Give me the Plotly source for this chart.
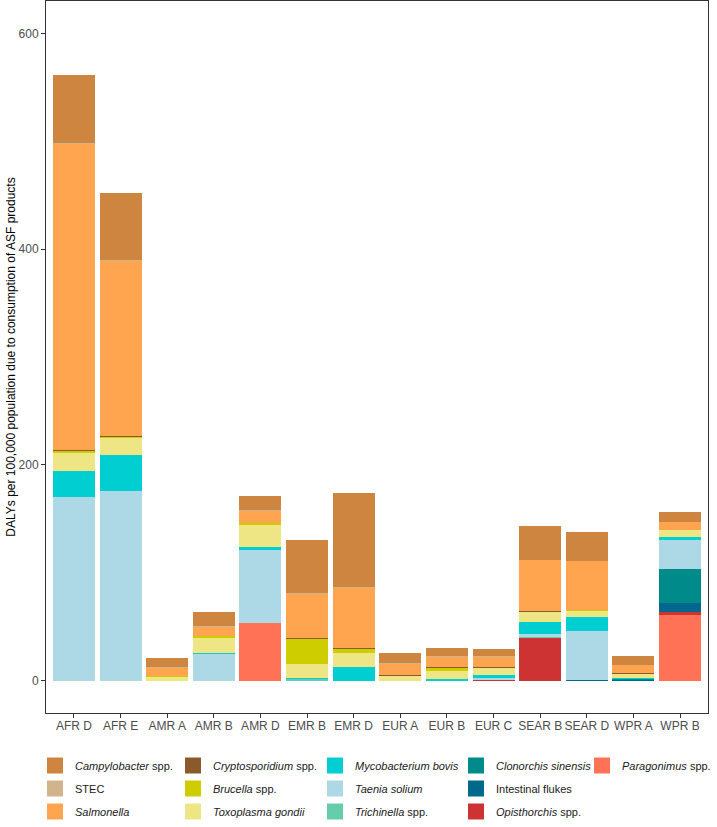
import plotly.graph_objects as go

regions = ["AFR D", "AFR E", "AMR A", "AMR B", "AMR D", "EMR B", "EMR D",
           "EUR A", "EUR B", "EUR C", "SEAR B", "SEAR D", "WPR A", "WPR B"]

campylobacter = [63.2, 62.0, 8.7, 12.9, 13.5, 49.0, 87.1, 9.1, 7.1, 6.5, 31.7, 26.8, 8.3, 8.9]
stec = [0.3, 0.3, 0.2, 0.3, 0.2, 0.2, 0.3, 0.3, 0.2, 0.2, 0.1, 0.1, 0.2, 0.1]
salmonella = [284.4, 162.9, 8.0, 8.4, 11.3, 42.0, 55.9, 11.0, 10.0, 10.0, 47.4, 45.5, 7.5, 7.0]
cryptosporidium = [0.2, 0.2, 0.1, 0.1, 0.1, 0.1, 0.1, 0.1, 0.1, 0.1, 0.1, 0.1, 0.1, 0.1]
brucella = [2.0, 1.0, 0.1, 1.2, 2.2, 23.3, 4.6, 0.1, 3.7, 0.3, 0.3, 0.2, 0.1, 0.3]
toxoplasma = [16.7, 15.9, 4.1, 14.5, 20.4, 13.6, 12.8, 5.0, 7.4, 7.1, 9.9, 6.1, 4.4, 6.5]
mycobacterium = [24.9, 33.4, 0.1, 0.8, 2.4, 0.2, 12.8, 0.1, 0.9, 2.7, 11.0, 13.5, 0.5, 2.8]
taenia = [169.8, 176.2, 0.0, 25.0, 68.1, 0.2, 0.0, 0.0, 0.3, 0.7, 3.1, 45.2, 0.2, 26.8]
trichinella = [0.0, 0.0, 0.0, 0.0, 0.0, 1.8, 0.0, 0.0, 0.2, 0.3, 0.1, 0.0, 0.0, 0.1]
clonorchis = [0.0, 0.0, 0.0, 0.0, 0.0, 0.0, 0.0, 0.0, 0.0, 0.0, 0.0, 0.0, 1.2, 31.4]
intestinal_flukes = [0.0, 0.0, 0.0, 0.0, 0.0, 0.0, 0.0, 0.0, 0.0, 0.0, 0.0, 0.5, 0.6, 8.6]
opisthorchis = [0.0, 0.0, 0.0, 0.0, 0.0, 0.0, 0.0, 0.0, 0.0, 1.2, 40.1, 0.0, 0.0, 2.8]
paragonimus = [0.0, 0.0, 0.0, 0.0, 53.3, 0.0, 0.0, 0.0, 0.0, 0.0, 0.0, 0.0, 0.0, 60.7]

y_ticks = [0, 200, 400, 600]

# (label, values, colour, legend column) in legend order (top of stack first)
series = [
    ("<i>Campylobacter</i> spp.", campylobacter, "#CD853F", 1),
    ("STEC", stec, "#D2B48C", 1),
    ("<i>Salmonella</i>", salmonella, "#FFA54F", 1),
    ("<i>Cryptosporidium</i> spp.", cryptosporidium, "#8B5A2B", 2),
    ("<i>Brucella</i> spp.", brucella, "#CDCD00", 2),
    ("<i>Toxoplasma gondii</i>", toxoplasma, "#EEE685", 2),
    ("<i>Mycobacterium bovis</i>", mycobacterium, "#00CED1", 3),
    ("<i>Taenia solium</i>", taenia, "#ADD8E6", 3),
    ("<i>Trichinella</i> spp.", trichinella, "#66CDAA", 3),
    ("<i>Clonorchis sinensis</i>", clonorchis, "#008B8B", 4),
    ("Intestinal flukes", intestinal_flukes, "#00688B", 4),
    ("<i>Opisthorchis</i> spp.", opisthorchis, "#CD3333", 4),
    ("<i>Paragonimus</i> spp.", paragonimus, "#FF7256", 5),
]

fig = go.Figure()
legend_ids = {1: "legend", 2: "legend2", 3: "legend3", 4: "legend4", 5: "legend5"}

# bars: bottom of stack first
for name, vals, col, lg in reversed(series):
    fig.add_trace(go.Bar(
        x=regions, y=vals, name=name, marker=dict(color=col, line=dict(width=0)),
        legendgroup=name, showlegend=False,
    ))

# legend entries with larger square keys, tied to the bars by legendgroup
for name, vals, col, lg in series:
    fig.add_trace(go.Scatter(
        x=[None], y=[None], mode="markers", name=name, legendgroup=name,
        marker=dict(symbol="square", size=16, color=col),
        legend=legend_ids[lg], showlegend=True,
    ))

W, H = 717, 827
plot_left, plot_right, plot_top, plot_bottom = 46, 708, 1, 713
pw = plot_right - plot_left
ph = plot_bottom - plot_top

legend_text_x = [75, 213, 355, 496, 622]
legend_common = dict(orientation="v", yanchor="top", xanchor="left",
                     bgcolor="rgba(0,0,0,0)", font=dict(size=11, color="#1a1a1a"),
                     traceorder="grouped", itemclick=False, itemdoubleclick=False,
                     tracegroupgap=4)
layout_legends = {}
for i, tx in enumerate(legend_text_x, start=1):
    key = "legend" if i == 1 else f"legend{i}"
    layout_legends[key] = dict(x=(tx - 40 - plot_left) / pw,
                               y=-(751 - plot_bottom) / ph, **legend_common)

fig.update_layout(
    width=W, height=H,
    margin=dict(l=plot_left, r=W - plot_right, t=plot_top, b=H - plot_bottom),
    barmode="stack", bargap=0.1,
    plot_bgcolor="white", paper_bgcolor="white",
    font=dict(family="Liberation Sans, Arial, sans-serif", size=12, color="#4D4D4D"),
    showlegend=True,
    **layout_legends,
)
fig.update_xaxes(
    type="category", range=[-0.6, len(regions) - 0.4], automargin=False,
    showline=True, mirror=True, linecolor="#333333", linewidth=1,
    ticks="outside", ticklen=4, tickcolor="#333333", tickwidth=1, tickangle=0,
    ticklabelstandoff=-2,
    showgrid=False, zeroline=False,
    tickfont=dict(size=12, color="#4D4D4D"),
)
fig.update_yaxes(
    range=[-30, 630], tickvals=y_ticks, automargin=False,
    showline=True, mirror=True, linecolor="#333333", linewidth=1,
    ticks="outside", ticklen=4, tickcolor="#333333", tickwidth=1,
    showgrid=False, zeroline=False,
    tickfont=dict(size=12, color="#4D4D4D"),
    title=dict(text="DALYs per 100,000 population due to consumption of ASF products",
               font=dict(size=12, color="black"), standoff=0),
)

fig.write_html("out.html", config={"displayModeBar": False},
               post_script="document.body.style.margin='0';")
